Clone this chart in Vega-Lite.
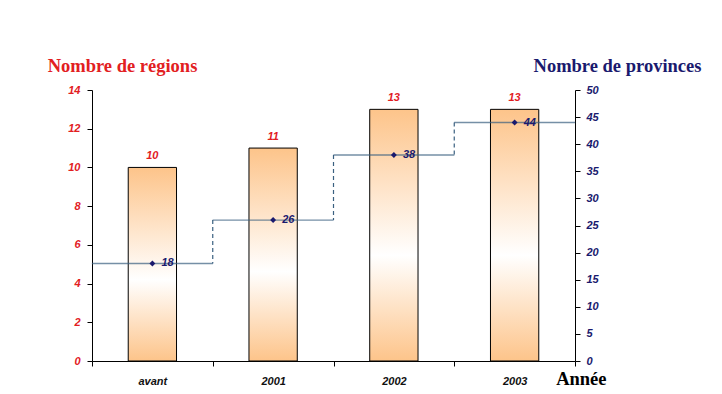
{
  "$schema": "https://vega.github.io/schema/vega-lite/v6.json",
  "width": 483,
  "height": 271,
  "autosize": "none",
  "padding": {"left": 92, "top": 90, "right": 147, "bottom": 33},
  "background": "white",
  "config": {
    "view": {"stroke": null},
    "axis": {"grid": false, "domainColor": "black", "tickColor": "black", "domainWidth": 1, "tickWidth": 1}
  },
  "data": {
    "values": [
      {"annee": "avant", "regions": 10, "provinces": 18, "prev": null},
      {"annee": "2001", "regions": 11, "provinces": 26, "prev": 18},
      {"annee": "2002", "regions": 13, "provinces": 38, "prev": 26},
      {"annee": "2003", "regions": 13, "provinces": 44, "prev": 38}
    ]
  },
  "encoding": {
    "x": {
      "field": "annee", "type": "nominal", "sort": null,
      "scale": {"paddingInner": 0, "paddingOuter": 0},
      "axis": {
        "orient": "bottom", "labelAngle": 0, "tickBand": "extent", "tickSize": 5,
        "labelFont": "Liberation Sans", "labelFontStyle": "italic", "labelFontWeight": "bold", "labelFontSize": 11, "labelColor": "#111111", "labelPadding": 9,
        "title": "Année", "titleFont": "Liberation Serif", "titleFontWeight": "bold", "titleFontSize": 18.5, "titleColor": "black",
        "titleAlign": "right", "titleBaseline": "alphabetic", "titleX": 514, "titleY": 23
      }
    }
  },
  "layer": [
    {
      "encoding": {
        "y": {
          "field": "regions", "type": "quantitative", "scale": {"domain": [0, 14]},
          "axis": {
            "orient": "left", "values": [0, 2, 4, 6, 8, 10, 12, 14], "tickSize": 5, "labelPadding": 7,
            "labelFont": "Liberation Sans", "labelFontStyle": "italic", "labelFontWeight": "bold", "labelFontSize": 11, "labelColor": "#e2201f",
            "title": "Nombre de régions", "titleFont": "Liberation Serif", "titleFontWeight": "bold", "titleFontSize": 18.5, "titleColor": "#e2201f",
            "titleAngle": 0, "titleAlign": "center", "titleBaseline": "middle", "titleX": 30, "titleY": -25
          }
        }
      },
      "layer": [
        {
          "mark": {
            "type": "bar", "width": {"band": 0.4}, "stroke": "black", "strokeWidth": 1,
            "fill": {
              "gradient": "linear", "x1": 0, "y1": 0, "x2": 0, "y2": 1,
              "stops": [
                {"offset": 0, "color": "#fdc48a"},
                {"offset": 0.58, "color": "#ffffff"},
                {"offset": 1, "color": "#fdc48a"}
              ]
            }
          }
        },
        {
          "mark": {"type": "text", "dy": -11, "font": "Liberation Sans", "fontStyle": "italic", "fontWeight": "bold", "fontSize": 11, "color": "#e2201f"},
          "encoding": {"text": {"field": "regions", "type": "quantitative"}}
        }
      ]
    },
    {
      "encoding": {
        "y": {
          "field": "provinces", "type": "quantitative", "scale": {"domain": [0, 50]},
          "axis": {
            "orient": "right", "values": [0, 5, 10, 15, 20, 25, 30, 35, 40, 45, 50], "tickSize": 5, "labelPadding": 6,
            "labelFont": "Liberation Sans", "labelFontStyle": "italic", "labelFontWeight": "bold", "labelFontSize": 11, "labelColor": "#1a1a6e",
            "title": "Nombre de provinces", "titleFont": "Liberation Serif", "titleFontWeight": "bold", "titleFontSize": 18.5, "titleColor": "#1a1a6e",
            "titleAngle": 0, "titleAlign": "center", "titleBaseline": "middle", "titleX": 42, "titleY": -25
          }
        }
      },
      "layer": [
        {
          "transform": [{"filter": "datum.prev != null"}],
          "mark": {"type": "rule", "strokeDash": [4, 3], "strokeWidth": 1.2, "color": "#3a6080"},
          "encoding": {
            "x": {"field": "annee", "type": "nominal", "sort": null, "bandPosition": 0},
            "y2": {"field": "prev"}
          }
        },
        {
          "mark": {"type": "tick", "orient": "horizontal", "size": 121, "thickness": 1.4, "color": "#3a6080"}
        },
        {
          "mark": {"type": "point", "shape": "diamond", "filled": true, "size": 35, "color": "#1a1a6e", "opacity": 1}
        },
        {
          "mark": {"type": "text", "align": "left", "baseline": "middle", "dx": 9, "font": "Liberation Sans", "fontStyle": "italic", "fontWeight": "bold", "fontSize": 11, "color": "#1a1a6e"},
          "encoding": {"text": {"field": "provinces", "type": "quantitative"}}
        }
      ]
    }
  ],
  "resolve": {"scale": {"y": "independent"}, "axis": {"y": "independent"}}
}
